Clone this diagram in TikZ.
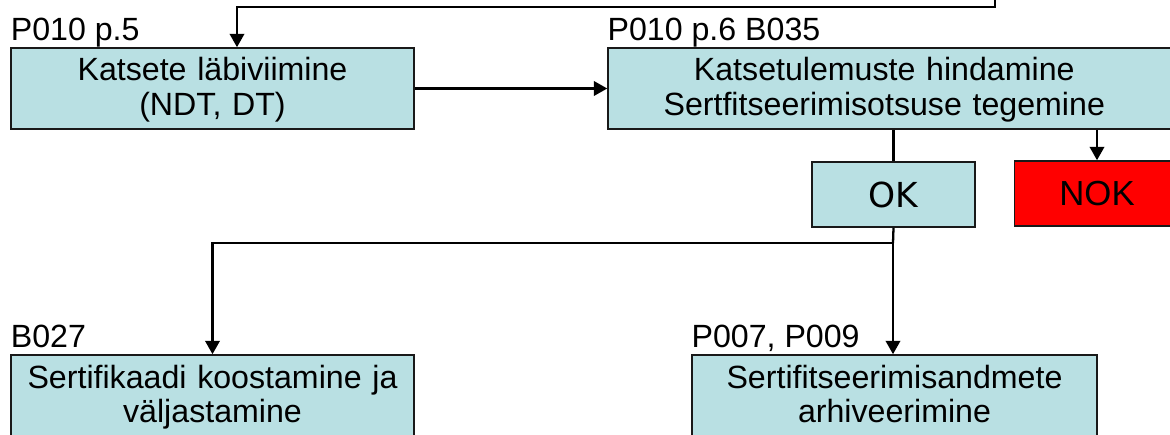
\documentclass[tikz,border=0pt]{standalone}
\usepackage{fontspec}
\setmainfont{Liberation Sans}
\newfontfamily\okfont{DejaVu Sans}
\usetikzlibrary{arrows.meta, positioning}
\definecolor{boxblue}{RGB}{185,224,227}
\definecolor{nokred}{RGB}{255,0,0}

\tikzset{
  box/.style={draw=black!90, fill=boxblue, line width=0.9pt, align=center,
    inner sep=0pt, font=\fontsize{18.3}{19.85}\selectfont},
  stage/.style={box, text height=0.66cm, text depth=0.96cm},
  verdict/.style={box, minimum height=1.3cm},
  tag/.style={anchor=base west, inner sep=0pt, font=\fontsize{18.3}{19.85}\selectfont},
  conn/.style={line width=1.3pt},
  arr/.style={conn, -{Triangle[length=7.6pt,width=8.2pt]}},
}

\begin{document}
\begin{tikzpicture}[x=0.02cm, y=-0.02cm]
\clip (0,0) rectangle (1170,435);
% Kastid
\node[stage, text width=8.05cm] (kat) at (212.5,88.5)
  {Katsete läbiviimine\\(NDT, DT)};
\node[stage, text width=11.6cm] (hin) at (898,88.5)
  {\hspace*{-0.55cm}Katsetulemuste hindamine\\\hspace*{-0.55cm}Sertfitseerimisotsuse tegemine};
\node[verdict, minimum width=3.26cm, font=\okfont\fontsize{19.6}{21}\selectfont] (ok) at (893.5,194.5) {OK};
\node[verdict, fill=nokred, minimum width=3.3cm, font=\fontsize{19.8}{21}\selectfont] (nok) at (1097,193.5) {NOK};
\node[stage, text width=8.05cm] (sert) at (212.5,395.5)
  {Sertifikaadi koostamine ja\\väljastamine};
\node[stage, text width=8.1cm] (arh) at (894.5,395.5)
  {Sertifitseerimisandmete\\arhiveerimine};
% Viited
\node[tag] (kattag) at ([yshift=0.14cm]kat.north west) {P010 p.5};
\node[tag] (hintag) at ([yshift=0.14cm]hin.north west) {P010 p.6 B035};
\node[tag] (serttag) at ([yshift=0.14cm]sert.north west) {B027};
\node[tag] (arhtag) at ([yshift=0.14cm]arh.north west) {P007, P009};
% Seosed
\coordinate (feed) at (995,-5);
\coordinate (turn) at (237,7);
\coordinate (split) at (893,243);
\draw[arr] (feed) |- (turn) -- (turn |- kat.north);
\draw[arr] (kat) -- (hin);
\draw[conn] (ok.north |- hin.south) -- (ok.north);
\draw[arr] (nok.north |- hin.south) -- (nok.north);
\draw[conn] (ok.south) -- (split);
\draw[arr] (split) -| (sert.north);
\draw[arr] (split) -- (split |- arh.north);
\end{tikzpicture}
\end{document}
